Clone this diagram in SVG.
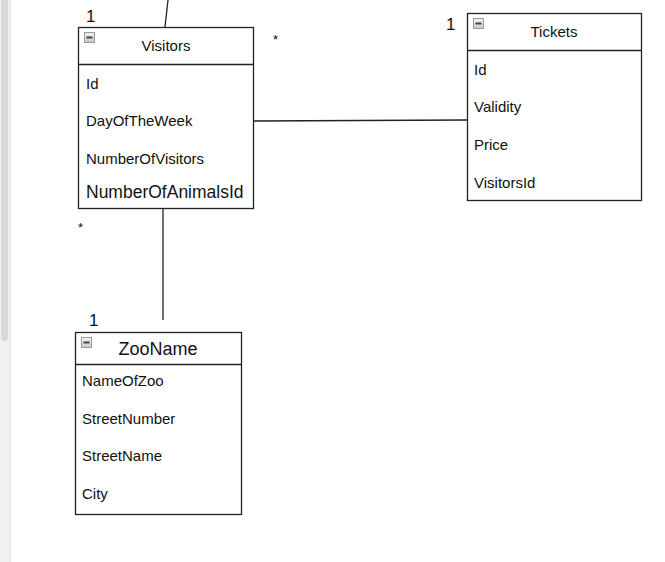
<svg xmlns="http://www.w3.org/2000/svg" width="665" height="562" viewBox="0 0 665 562">
<defs>
<linearGradient id="mg" x1="0" y1="0" x2="0" y2="1">
<stop offset="0" stop-color="#f4f4f4"/>
<stop offset="1" stop-color="#c8c8c8"/>
</linearGradient>
<g id="minus">
<rect x="0.5" y="0.5" width="10" height="10" fill="url(#mg)" stroke="#9a9a9a" stroke-width="1"/>
<rect x="2.5" y="4.5" width="6" height="2" fill="#444"/>
</g>
</defs>
<style>
text{font-family:"Liberation Sans",Arial,sans-serif;fill:#111;}
.box{fill:#fff;stroke:#222;stroke-width:1.3;}
.sep{stroke:#222;stroke-width:1.3;}
.attr{font-size:15px;}
.title{font-size:15px;text-anchor:middle;}
.big{font-size:17.5px;}
.mult{font-size:17px;}
.star{font-size:13px;}
.conn{stroke:#222;stroke-width:1.3;fill:none;}
</style>
<rect x="0" y="0" width="665" height="562" fill="#fff"/>
<g id="scrollbar">
<rect x="0" y="0" width="10" height="562" fill="#f1f1f1"/>
<line x1="10.5" y1="0" x2="10.5" y2="562" stroke="#e2e2e2"/>
<rect x="1" y="-4" width="7" height="345" rx="3.5" fill="#d8d8d8"/>
</g>
<g id="connectors">
<line class="conn" x1="168" y1="0" x2="165" y2="27"/>
<line class="conn" x1="253" y1="121" x2="467" y2="120"/>
<line class="conn" x1="163" y1="208" x2="163" y2="320"/>
<text class="mult" x="86" y="22">1</text>
<text class="star" x="273" y="44">*</text>
<text class="mult" x="446" y="30">1</text>
<text class="star" x="78" y="232">*</text>
<text class="mult" x="89" y="326">1</text>
</g>
<g id="visitors">
<rect class="box" x="78.5" y="27.5" width="175" height="181"/>
<line class="sep" x1="78.5" y1="64.5" x2="253.5" y2="64.5"/>
<use href="#minus" x="84" y="32"/>
<text class="title" x="166" y="51">Visitors</text>
<text class="attr" x="86" y="89">Id</text>
<text class="attr" x="86" y="126">DayOfTheWeek</text>
<text class="attr" x="86" y="164">NumberOfVisitors</text>
<text class="big" x="86" y="198">NumberOfAnimalsId</text>
</g>
<g id="tickets">
<rect class="box" x="467.5" y="13.5" width="174" height="187"/>
<line class="sep" x1="467.5" y1="50.5" x2="641.5" y2="50.5"/>
<use href="#minus" x="473" y="18"/>
<text class="title" x="554" y="37">Tickets</text>
<text class="attr" x="474" y="75">Id</text>
<text class="attr" x="474" y="112">Validity</text>
<text class="attr" x="474" y="150">Price</text>
<text class="attr" x="474" y="188">VisitorsId</text>
</g>
<g id="zooname">
<rect class="box" x="75.5" y="332.5" width="166" height="182"/>
<line class="sep" x1="75.5" y1="364.5" x2="241.5" y2="364.5"/>
<use href="#minus" x="81" y="337"/>
<text class="big" x="158" y="355" text-anchor="middle" style="font-size:18px">ZooName</text>
<text class="attr" x="82" y="386">NameOfZoo</text>
<text class="attr" x="82" y="424">StreetNumber</text>
<text class="attr" x="82" y="461">StreetName</text>
<text class="attr" x="82" y="499">City</text>
</g>
</svg>
